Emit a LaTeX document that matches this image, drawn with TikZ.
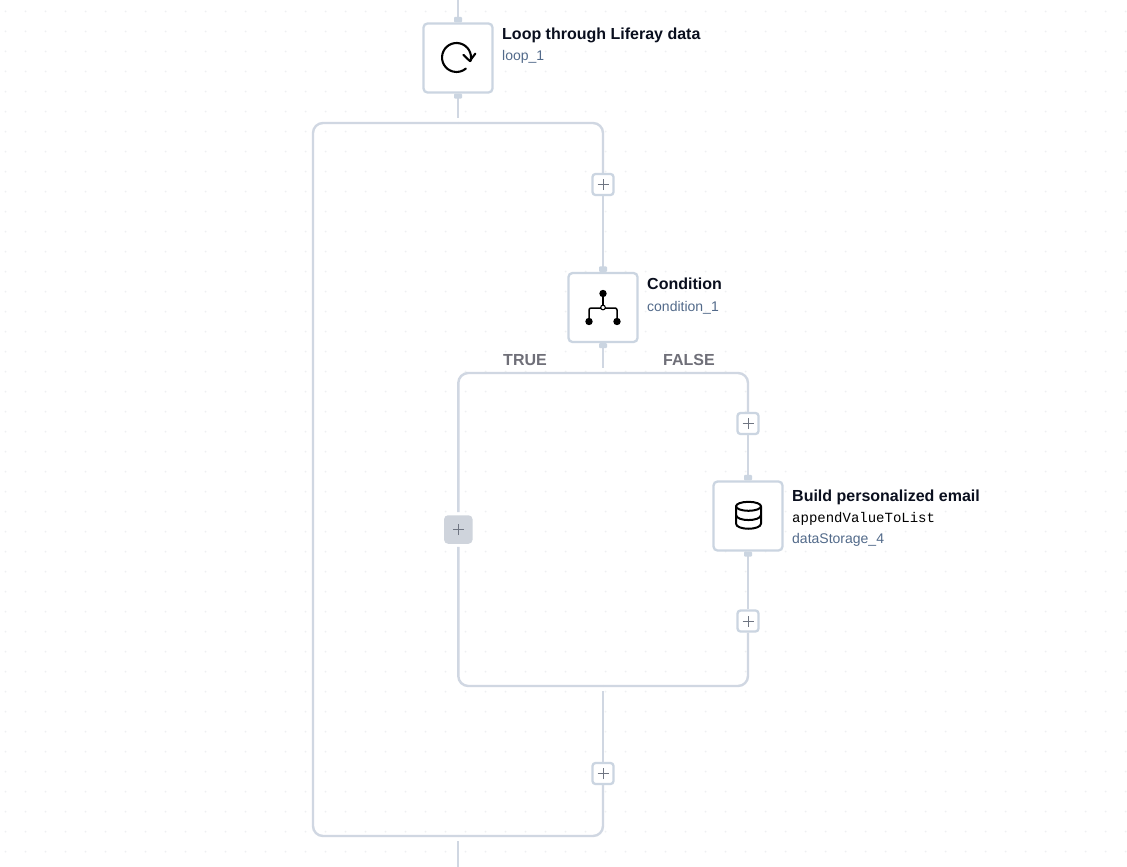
\documentclass[tikz,border=0pt]{standalone}
\usepackage{fontspec}
\setmainfont{Liberation Sans}
\setmonofont{Liberation Mono}
\definecolor{wirec}{HTML}{D0D7E2}
\definecolor{barc}{HTML}{D6DCE6}
\definecolor{boxc}{HTML}{CBD5E1}
\definecolor{dotc}{HTML}{EEF0F2}
\definecolor{subc}{HTML}{526A8A}
\definecolor{titlec}{HTML}{0A0F1E}
\definecolor{branchc}{HTML}{6F6F78}
\definecolor{greyc}{HTML}{CFD4DC}
\definecolor{plusc}{HTML}{6F7582}
\tikzset{
  x=1pt,y=-1pt,
  wire/.style={draw=wirec,line width=2.4pt},
  corner/.style={wire,rounded corners=10pt},
  bar/.style={draw=barc,line width=2.8pt},
  handle/.style={fill=boxc,rounded corners=1pt},
  stepbox/.style={draw=boxc,line width=2.3pt,fill=white,rounded corners=4pt,minimum size=69pt,inner sep=0pt},
  plusbox/.style={draw=boxc,line width=2.3pt,fill=white,rounded corners=3pt,minimum size=21pt,inner sep=0pt},
  greybox/.style={fill=greyc,rounded corners=4pt,minimum size=28.5pt,inner sep=0pt},
  titletext/.style={anchor=base west,inner sep=0pt,font=\fontsize{16}{18}\selectfont\bfseries,text=titlec},
  subtext/.style={anchor=base west,inner sep=0pt,font=\fontsize{14}{16}\selectfont,text=subc},
  monotext/.style={anchor=base west,inner sep=0pt,font=\fontsize{14}{16}\selectfont\ttfamily,text=black},
  branch/.style={anchor=base,inner sep=0pt,font=\fontsize{16}{18}\selectfont\bfseries,text=branchc},
  icon/.style={draw=black,line width=2.1pt,line cap=round,line join=round},
  thinicon/.style={draw=black,line width=1.5pt,line cap=round,line join=round},
  dbicon/.style={draw=black,line width=2pt,line cap=round,line join=round},
}
\newcommand{\plusmark}[1]{\draw[plusc,line width=1pt] ([xshift=-5.5pt]#1.center) -- ([xshift=5.5pt]#1.center) ([yshift=-5.5pt]#1.center) -- ([yshift=5.5pt]#1.center);}
\begin{document}
\begin{tikzpicture}
\useasboundingbox (0,0) rectangle (1127,867);
\fill[white] (0,0) rectangle (1127,867);
% dotted canvas
\foreach \i in {0,...,56}{\foreach \j in {0,...,42}{
  \fill[dotc] (5.5+20*\i,11.5+20*\j) circle[radius=1pt];}}
% named positions
\coordinate (entry) at (458,0);
\coordinate (loopout) at (458,118);
\coordinate (otop) at (458,123);
\coordinate (oleft) at (313,480);
\coordinate (obot) at (458,836);
\coordinate (exitpt) at (458,841);
\coordinate (exitend) at (458,867);
\coordinate (condout) at (603,368);
\coordinate (itop) at (603,373);
\coordinate (ibot) at (603,686);
\coordinate (ibotout) at (603,691);
% nodes
\node[stepbox] (loop) at (458,58) {};
\node[stepbox] (cond) at (603,307.5) {};
\node[stepbox] (build) at (748,516) {};
\node[plusbox] (plusa) at (603,184.5) {};
\node[plusbox] (plusb) at (748,423.5) {};
\node[plusbox] (plusc) at (748,621) {};
\node[plusbox] (plusd) at (603,773.5) {};
\node[greybox] (grey) at (458.3,529.5) {};
% thicker joints
\draw[bar] (422,123) -- (452,123) (465,123) -- (494,123);
\draw[bar] (422,836) -- (452,836) (465,836) -- (494,836);
\draw[bar] (567,373) -- (597,373) (610,373) -- (639,373);
\draw[bar] (567,686) -- (597,686) (610,686) -- (639,686);
\draw[bar] (313,683) -- (313,713);
% connectors
\draw[wire] (entry) -- (loop.north);
\draw[wire] (loop.south) -- (loopout);
\draw[corner] (otop) -| (plusa.north);
\draw[corner] (otop) -| (oleft) |- (obot);
\draw[wire] (plusa.south) -- (cond.north);
\draw[wire] (cond.south) -- (condout);
\draw[corner] (itop) -| ([yshift=3pt]grey.north);
\draw[corner] (itop) -| (plusb.north);
\draw[wire] (plusb.south) -- (build.north);
\draw[wire] (build.south) -- (plusc.north);
\draw[corner] (plusc.south) |- (ibot);
\draw[corner] ([yshift=-3pt]grey.south) |- (ibot);
\draw[wire] (ibotout) -- (plusd.north);
\draw[corner] (plusd.south) |- (obot);
\draw[wire] (exitpt) -- (exitend);
% handles
\foreach \n in {loop,cond,build}{
  \fill[handle] ([xshift=-4pt,yshift=5.5pt]\n.north) rectangle ([xshift=4pt]\n.north);
  \fill[handle] ([xshift=-4pt]\n.south) rectangle ([xshift=4pt,yshift=-5pt]\n.south);
}
% plus signs
\plusmark{plusa}\plusmark{plusb}\plusmark{plusc}\plusmark{plusd}\plusmark{grey}
% loop icon
\draw[icon] (470.6,61) arc[start angle=14,end angle=-310,radius=14.5];
\draw[icon] (463.3,54.8) -- (469.8,61) -- (475.3,53.6);
% condition icon
\draw[thinicon] (603,293.5) -- (603,305);
\draw[thinicon,rounded corners=2pt] (589,321) -- (589,308) -- (617,308) -- (617,321);
\fill (603,293.5) circle[radius=3.7pt];
\fill (589,321.5) circle[radius=3.7pt];
\fill (617,321.5) circle[radius=3.7pt];
\draw[black,fill=white,line width=1.1pt] (603,307.5) circle[radius=2.3pt];
% storage icon
\draw[dbicon] (748.5,506.3) ellipse[x radius=12.5pt,y radius=4.5pt];
\draw[dbicon] (736,506.3) -- (736,523.5) .. controls (736,530.5) and (761,530.5) .. (761,523.5) -- (761,506.3);
\draw[dbicon] (736,514.8) .. controls (736,521.8) and (761,521.8) .. (761,514.8);
% labels
\node[titletext] (t1) at (502,39.3) {Loop through Liferay data};
\node[subtext] (s1) at (502,61) {loop\_1};
\node[titletext] (t2) at (647,289) {Condition};
\node[subtext] (s2) at (647,311) {condition\_1};
\node[titletext] (t3) at (792,501) {Build personalized email};
\node[monotext] (m3) at (792,522) {appendValueToList};
\node[subtext] (s3) at (792,543) {dataStorage\_4};
\node[branch] (tt) at (525,365) {TRUE};
\node[branch] (ff) at (689,365) {FALSE};
\end{tikzpicture}
\end{document}
